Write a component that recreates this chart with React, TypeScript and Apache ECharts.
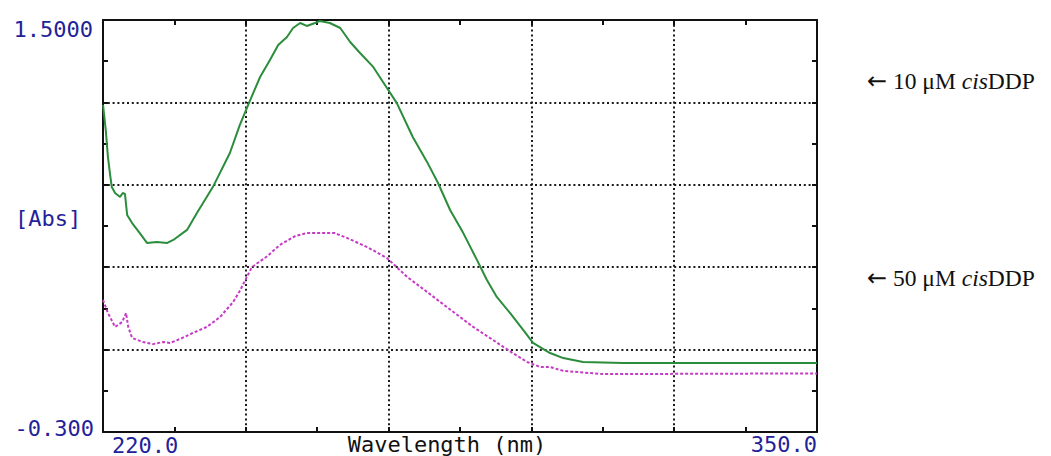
import React, { useEffect, useRef } from 'react';
import * as echarts from 'echarts';

// Absorbance spectra (nm, Abs) for the two cisDDP concentrations
const wavelength10 = [
  220.0, 220.5, 220.9, 221.3, 221.6, 222.2, 223.1, 223.6, 224.0, 224.4, 225.3, 226.7, 228.0, 229.8,
  231.7, 232.8, 235.3, 237.1, 240.0, 243.1, 244.9, 246.8, 248.6, 250.4, 251.9, 253.5, 254.6, 255.9,
  257.1, 258.6, 259.5, 261.3, 263.2, 265.0, 266.8, 269.2, 271.7, 273.5, 276.4, 279.0, 281.0, 283.2,
  285.6, 288.1, 289.9, 291.7, 294.1, 296.5, 298.3, 301.4, 303.8, 307.4, 314.7, 350.0,
];
const absorbance10 = [
  1.129, 1.02, 0.901, 0.823, 0.77, 0.744, 0.727, 0.744, 0.74, 0.648, 0.613, 0.569, 0.526, 0.53,
  0.526, 0.539, 0.583, 0.657, 0.77, 0.919, 1.041, 1.15, 1.251, 1.325, 1.391, 1.426, 1.465, 1.487,
  1.474, 1.487, 1.496, 1.487, 1.465, 1.404, 1.356, 1.295, 1.203, 1.137, 0.989, 0.88, 0.788, 0.67,
  0.569, 0.451, 0.364, 0.29, 0.22, 0.146, 0.089, 0.045, 0.023, 0.006, 0.001, 0.001,
];

const wavelength50 = [
  220.0, 220.9, 222.2, 223.5, 224.2, 224.6, 225.3, 227.3, 229.1, 230.9, 232.2, 234.0, 236.4, 238.9,
  241.3, 243.7, 244.9, 246.0, 247.1, 248.6, 249.9, 252.2, 255.0, 257.1, 262.2, 264.4, 268.1, 271.7,
  275.4, 279.0, 282.6, 287.4, 291.0, 294.6, 297.2, 299.6, 301.4, 303.8, 311.0, 350.0,
];
const absorbance50 = [
  0.277, 0.22, 0.159, 0.181, 0.22, 0.159, 0.111, 0.093, 0.084, 0.093, 0.089, 0.106, 0.133, 0.159,
  0.202, 0.268, 0.316, 0.368, 0.42, 0.446, 0.468, 0.517, 0.556, 0.569, 0.569, 0.548, 0.508, 0.46,
  0.377, 0.312, 0.246, 0.159, 0.102, 0.045, 0.006, -0.016, -0.016, -0.033, -0.047, -0.044,
];

const xRange = [220, 350];
const yRange = [-0.3, 1.5];
const xEndLabels = ['220.0', '350.0'];
const yEndLabels = ['1.5000', '-0.300'];
const xTitle = 'Wavelength (nm)';
const yTitle = '[Abs]';
const curveLabels = ['{a|←} 10 μM {i|cis}DDP', '{a|←} 50 μM {i|cis}DDP'];

const GREEN = '#2b8d3b';
const MAGENTA = '#c63ac6';
const LABEL_BLUE = '#1f2299';
const MONO = '22px "DejaVu Sans Mono", monospace';
const SERIF_SIZE = 23.5;

// Frame axis: 5 major divisions with a half-division minor tick, ticks pointing inward
function frameAxis(position: string, grid: boolean) {
  return {
    type: 'value',
    min: 0,
    max: 5,
    interval: 1,
    position,
    silent: true,
    axisLine: { show: true, onZero: false, lineStyle: { color: '#111', width: 2 } },
    axisTick: { show: true, inside: true, length: 5, lineStyle: { color: '#111', width: 2 } },
    minorTick: { show: true, splitNumber: 2, length: 5, lineStyle: { color: '#111', width: 2 } },
    axisLabel: { show: false },
    splitLine: { show: grid, lineStyle: { color: '#1b1b1b', width: 2, type: [2, 2.8] } },
    minorSplitLine: { show: false },
  };
}

function dataAxis(range: number[], position: string) {
  return {
    type: 'value',
    min: range[0],
    max: range[1],
    position,
    show: false,
    axisLine: { show: false, onZero: false },
    axisTick: { show: false },
    axisLabel: { show: false },
    splitLine: { show: false },
  };
}

export default function App() {
  const ref = useRef<HTMLDivElement>(null);

  useEffect(() => {
    if (!ref.current) return;
    const chart = echarts.init(ref.current, undefined, { renderer: 'svg' });
    const serifFamily = '"Liberation Serif", serif';
    const rich = {
      i: { fontStyle: 'italic', fontFamily: serifFamily, fontSize: SERIF_SIZE, fill: '#111' },
      a: { fontFamily: '"DejaVu Sans", sans-serif', fontSize: 24, fill: '#111' },
    };
    const serifFont = `${SERIF_SIZE}px ${serifFamily}`;

    chart.setOption({
      animation: false,
      backgroundColor: '#fff',
      grid: { left: 103, top: 20, width: 714, height: 412, containLabel: false },
      xAxis: [dataAxis(xRange, 'bottom'), frameAxis('bottom', true), frameAxis('top', false)],
      yAxis: [dataAxis(yRange, 'left'), frameAxis('left', true), frameAxis('right', false)],
      series: [
        {
          type: 'line',
          name: '10 μM cisDDP',
          xAxisIndex: 0,
          yAxisIndex: 0,
          data: wavelength10.map((w, i) => [w, absorbance10[i]]),
          showSymbol: false,
          symbol: 'none',
          silent: true,
          z: 5,
          lineStyle: { color: GREEN, width: 2 },
        },
        {
          type: 'line',
          name: '50 μM cisDDP',
          xAxisIndex: 0,
          yAxisIndex: 0,
          data: wavelength50.map((w, i) => [w, absorbance50[i]]),
          showSymbol: false,
          symbol: 'none',
          silent: true,
          z: 5,
          lineStyle: { color: MAGENTA, width: 2, type: [3, 2] },
        },
      ],
      graphic: [
        { type: 'text', x: 93, y: 29, style: { text: yEndLabels[0], font: MONO, fill: LABEL_BLUE, align: 'right', verticalAlign: 'middle' } },
        { type: 'text', x: 15, y: 218, style: { text: yTitle, font: MONO, fill: LABEL_BLUE, align: 'left', verticalAlign: 'middle' } },
        { type: 'text', x: 94, y: 428, style: { text: yEndLabels[1], font: MONO, fill: LABEL_BLUE, align: 'right', verticalAlign: 'middle' } },
        { type: 'text', x: 112, y: 445, style: { text: xEndLabels[0], font: MONO, fill: LABEL_BLUE, align: 'left', verticalAlign: 'middle' } },
        { type: 'text', x: 447, y: 444, style: { text: xTitle, font: MONO, fill: '#111', align: 'center', verticalAlign: 'middle' } },
        { type: 'text', x: 817, y: 444, style: { text: xEndLabels[1], font: MONO, fill: LABEL_BLUE, align: 'right', verticalAlign: 'middle' } },
        { type: 'text', x: 867, y: 81, style: { text: curveLabels[0], font: serifFont, fill: '#111', align: 'left', verticalAlign: 'middle', rich } },
        { type: 'text', x: 867, y: 278, style: { text: curveLabels[1], font: serifFont, fill: '#111', align: 'left', verticalAlign: 'middle', rich } },
      ],
    });

    return () => chart.dispose();
  }, []);

  return (
    <div
      ref={ref}
      style={{ position: 'fixed', left: 0, top: 0, width: 1051, height: 456, background: '#fff' }}
    />
  );
}
